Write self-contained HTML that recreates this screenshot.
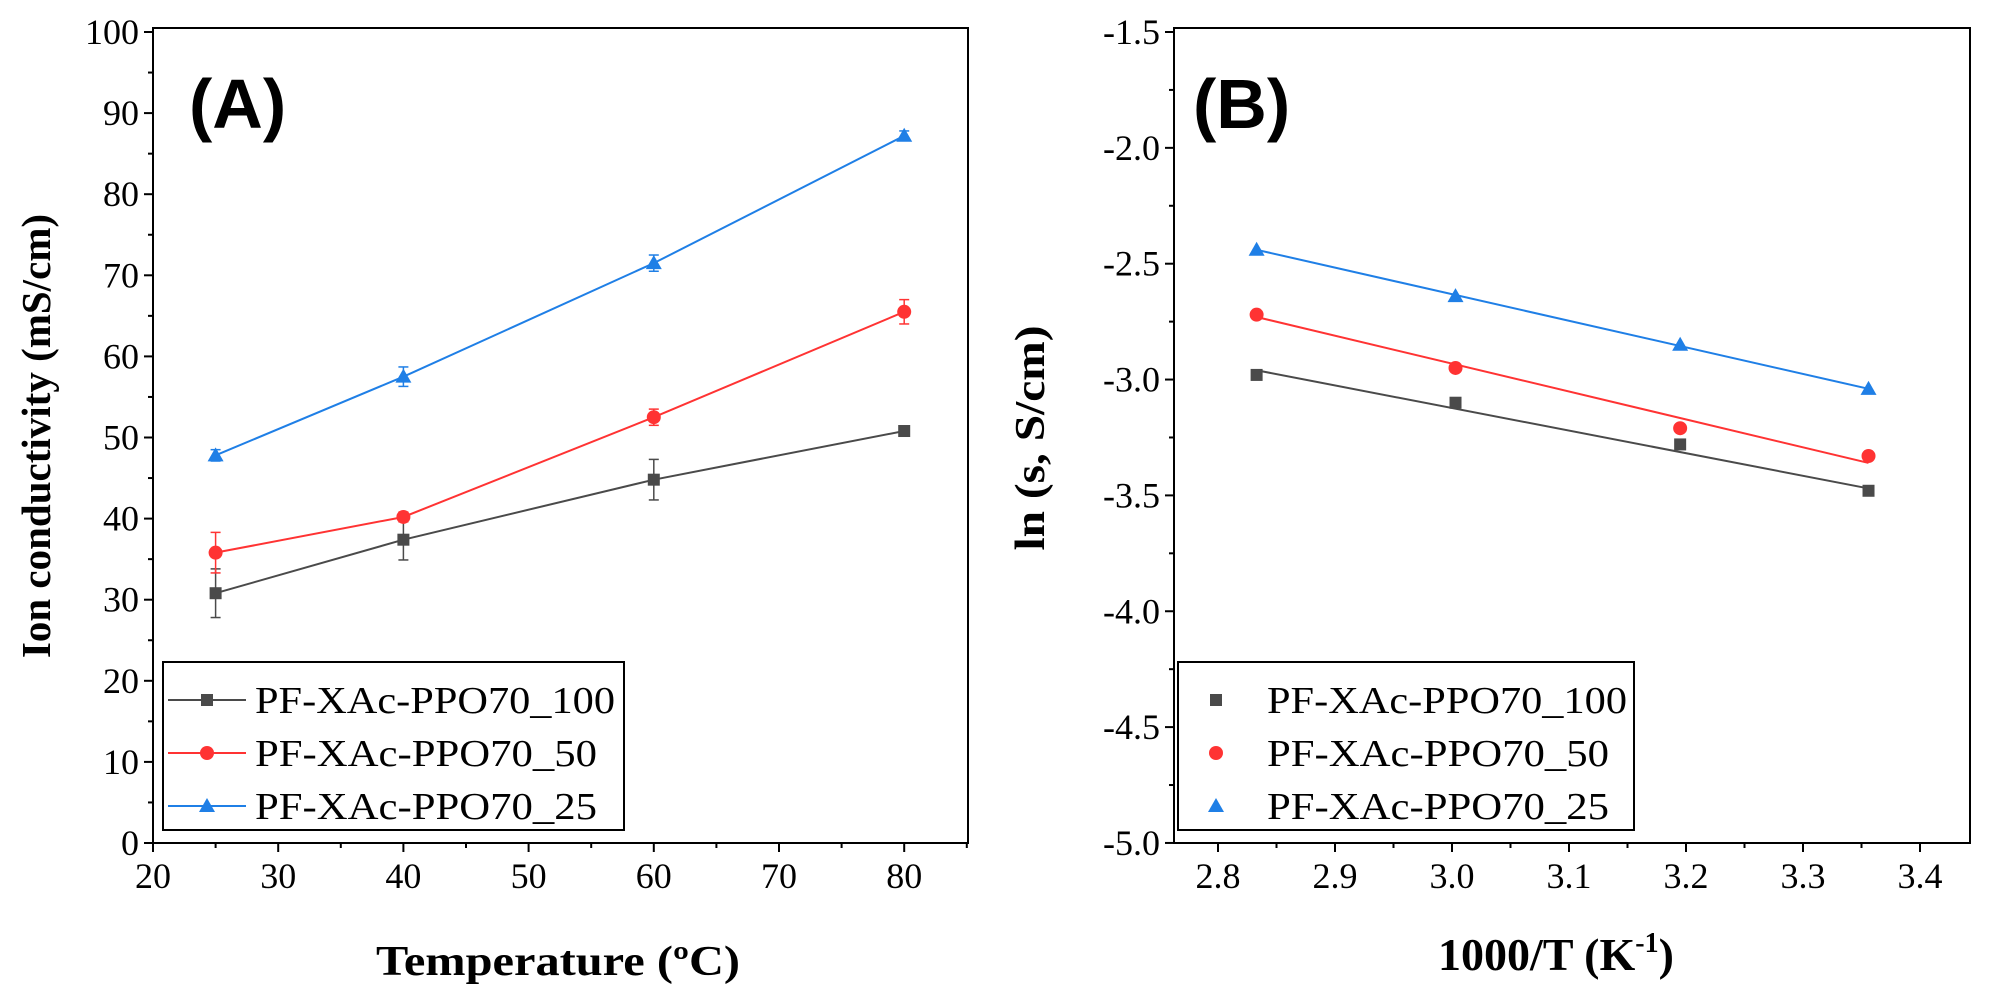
<!DOCTYPE html>
<html><head><meta charset="utf-8"><style>
html,body{margin:0;padding:0;background:#fff;width:1997px;height:1001px;overflow:hidden}
svg text{font-family:"Liberation Serif",serif}
</style></head><body>
<svg id="s" width="1997" height="1001" xmlns="http://www.w3.org/2000/svg"></svg>
<script>
const S=document.getElementById('s');let h='';
function ln(x1,y1,x2,y2,c,w){h+=`<line x1="${x1}" y1="${y1}" x2="${x2}" y2="${y2}" stroke="${c||'#000'}" stroke-width="${w||2}"/>`;}
function tx(x,y,t,sz,anc,extra){h+=`<text x="${x}" y="${y}" font-size="${sz}" text-anchor="${anc||'middle'}" ${extra||''}>${t}</text>`;}
function mk(type,x,y,c){
 if(type==0)h+=`<rect x="${x-6}" y="${y-6}" width="12" height="12" fill="${c}"/>`;
 else if(type==1)h+=`<circle cx="${x}" cy="${y}" r="7" fill="${c}"/>`;
 else h+=`<polygon points="${x},${y-8} ${x+8},${y+6} ${x-8},${y+6}" fill="${c}"/>`;}
const cols=['#4a4a4a','#ff3333','#1f7fe6'];
const TF=36;
// Panel A
const AL=153,AR=968,AT=28,AB=843;
const ax=v=>153+(v-20)*12.52, ay=v=>843-v*8.11;
h+=`<rect x="${AL}" y="${AT}" width="${AR-AL}" height="${AB-AT}" fill="none" stroke="#000" stroke-width="2"/>`;
for(let v=0;v<=100;v+=5){const y=ay(v);ln(AL-(v%10?5:9),y,AL,y);if(v%10==0)tx(AL-14,y+12,v,TF,'end');}
for(let v=20;v<=85;v+=5){const x=ax(v);ln(x,AB,x,AB+(v%10?5:9));if(v%10==0)tx(x,AB+45,v,TF);}
const A=[[30.8,37.4,44.8,50.8],[35.8,40.2,52.5,65.5],[47.8,57.5,71.5,87.2]];
const Ae=[[3,2.5,2.5,0.5],[2.5,0.6,1,1.5],[0.7,1.2,1,0.6]];
const AX=[25,40,60,80];
A.forEach((s,i)=>{let p=s.map((v,j)=>ax(AX[j])+','+ay(v)).join(' ');
 h+=`<polyline points="${p}" fill="none" stroke="${cols[i]}" stroke-width="2"/>`;
 s.forEach((v,j)=>{const x=ax(AX[j]),e=Ae[i][j];ln(x,ay(v-e),x,ay(v+e),cols[i],1.5);ln(x-5,ay(v-e),x+5,ay(v-e),cols[i],1.5);ln(x-5,ay(v+e),x+5,ay(v+e),cols[i],1.5);mk(i,x,ay(v),cols[i]);});});
h+=`<rect x="163" y="662" width="461" height="168" fill="#fff" stroke="#000" stroke-width="2"/>`;
['PF-XAc-PPO70_100','PF-XAc-PPO70_50','PF-XAc-PPO70_25'].forEach((t,i)=>{const y=700+i*53;ln(168,y,246,y,cols[i],2);mk(i,207,y,cols[i]);
 const L=[360,342,342][i];tx(255,y+13,t,38,'start',`textLength="${L}" lengthAdjust="spacingAndGlyphs"`);});
tx(189,128,'(A)',70,'start','font-weight="bold" style="font-family:Liberation Sans,sans-serif"');
tx(558,975,'Temperature (ºC)',42,'middle',`font-weight="bold" textLength="364" lengthAdjust="spacingAndGlyphs"`);
h+=`<text transform="translate(50,436) rotate(-90)" font-size="41" font-weight="bold" text-anchor="middle">Ion conductivity (mS/cm)</text>`;
// Panel B
const BL=1174,BR=1970,BT=28,BB=843;
const bx=v=>1218+(v-2.8)*1170, by=v=>32+(-1.5-v)*231.7;
h+=`<rect x="${BL}" y="${BT}" width="${BR-BL}" height="${BB-BT}" fill="none" stroke="#000" stroke-width="2"/>`;
for(let k=0;k<=14;k++){const v=-1.5-k*0.25,y=by(v);ln(BL-(k%2?5:9),y,BL,y);if(k%2==0)tx(BL-14,y+12,v.toFixed(1),TF,'end');}
for(let k=-1;k<=13;k++){const v=2.8+k*0.05,x=bx(v);if(x<BL||x>BR)continue;ln(x,BB,x,BB+(k%2?5:9));if(k%2==0)tx(x,BB+45,v.toFixed(1),TF);}
const BX=[2.833,3.003,3.195,3.356];
const B=[[-2.98,-3.10,-3.28,-3.48],[-2.72,-2.95,-3.21,-3.33],[-2.44,-2.64,-2.85,-3.04]];
const F=[[-2.96,-3.47],[-2.73,-3.36],[-2.44,-3.04]];
B.forEach((s,i)=>{ln(bx(BX[0]),by(F[i][0]),bx(BX[3]),by(F[i][1]),cols[i],2);s.forEach((v,j)=>mk(i,bx(BX[j]),by(v),cols[i]));});
h+=`<rect x="1178" y="662" width="456" height="168" fill="#fff" stroke="#000" stroke-width="2"/>`;
['PF-XAc-PPO70_100','PF-XAc-PPO70_50','PF-XAc-PPO70_25'].forEach((t,i)=>{const y=700+i*53;mk(i,1216,y,cols[i]);
 const L=[360,342,342][i];tx(1267,y+13,t,38,'start',`textLength="${L}" lengthAdjust="spacingAndGlyphs"`);});
tx(1193,128,'(B)',70,'start','font-weight="bold" style="font-family:Liberation Sans,sans-serif"');
h+=`<text x="1556" y="970" font-size="46" font-weight="bold" text-anchor="middle">1000/T (K<tspan font-size="28" dy="-18">-1</tspan><tspan dy="18">)</tspan></text>`;
h+=`<text transform="translate(1044,438) rotate(-90)" font-size="42" font-weight="bold" text-anchor="middle" textLength="225" lengthAdjust="spacingAndGlyphs">ln (s, S/cm)</text>`;
S.innerHTML=h;
</script>
</body></html>
